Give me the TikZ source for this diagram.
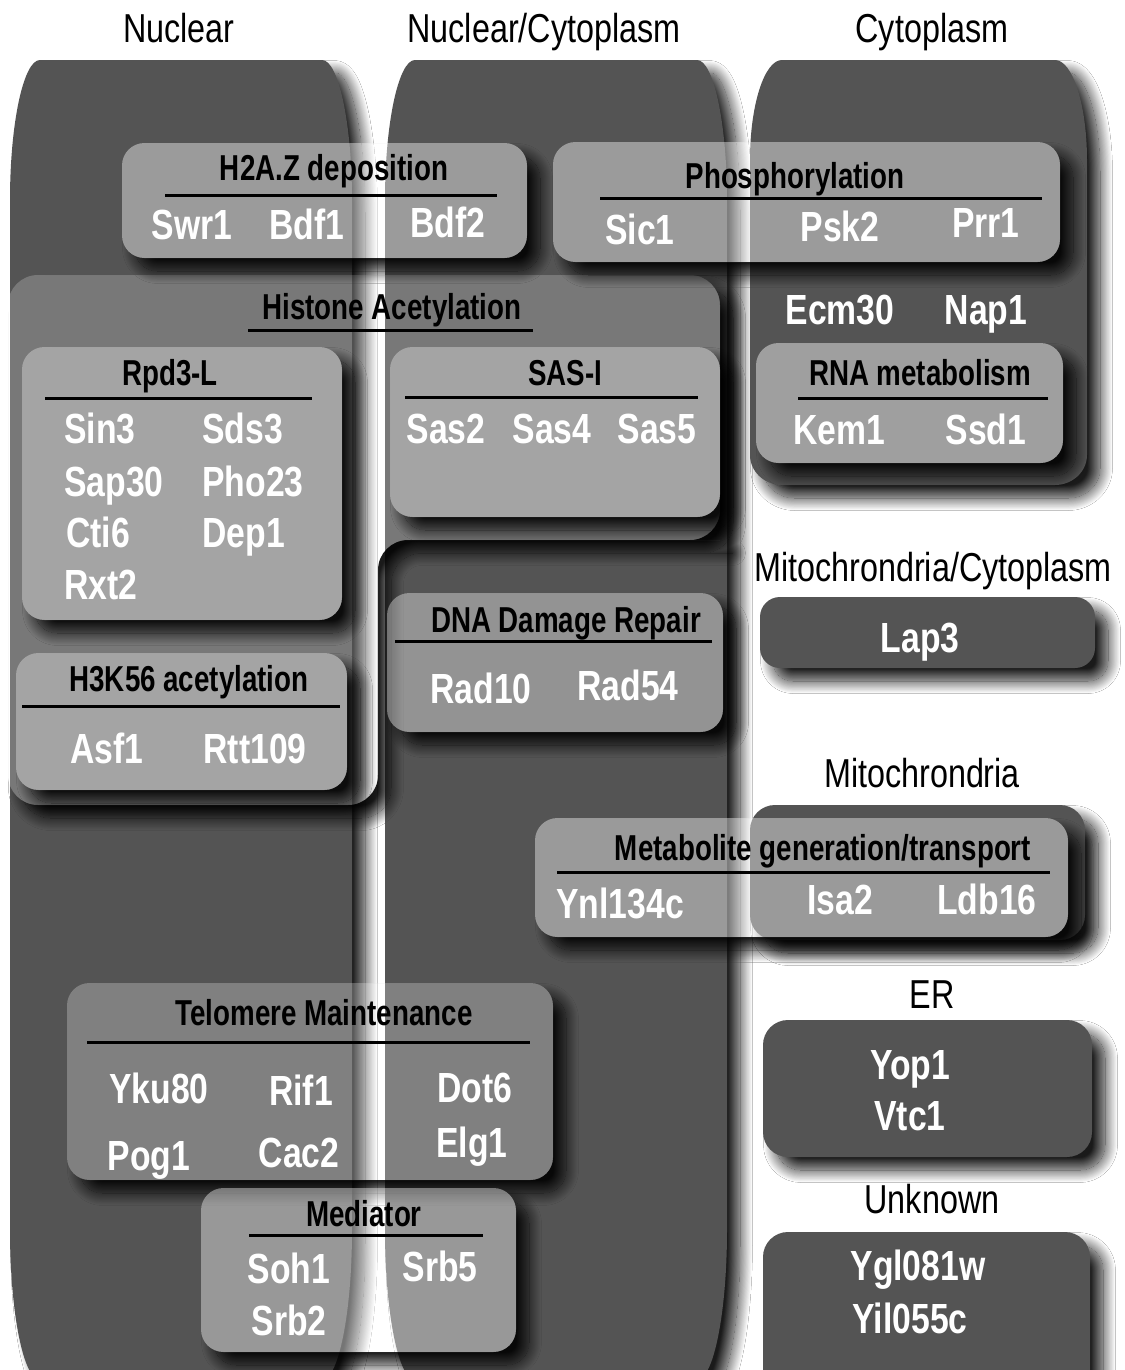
\documentclass[tikz,border=0pt]{standalone}
\usepackage{fontspec}
\setmainfont{Liberation Sans}
\newfontfamily\narrowfont[FakeStretch=0.8]{Liberation Sans}
\newfontfamily\titlefont[FakeStretch=0.77]{Liberation Sans}
\usetikzlibrary{shadows.blur}

\definecolor{cellgray}{HTML}{545454}

% rounded column: style, left, top, right, bottom, x radius, top y radius, bottom y radius
\newcommand{\capsule}[8]{%
  \path[#1] (#2,#3+#7) .. controls (#2,#3+0.45*#7) and (#2+0.45*#6,#3) .. (#2+#6,#3)
    -- (#4-#6,#3) .. controls (#4-0.45*#6,#3) and (#4,#3+0.45*#7) .. (#4,#3+#7)
    -- (#4,#5-#8) .. controls (#4,#5-0.45*#8) and (#4-0.45*#6,#5) .. (#4-#6,#5)
    -- (#2+#6,#5) .. controls (#2+0.45*#6,#5) and (#2,#5-0.45*#8) .. (#2,#5-#8) -- cycle;}

% see-through shape whose shadow stays outside it: style, corner radius, path
\newcommand{\glassshape}[3]{%
  \begin{scope}[rounded corners=#2]
    \clip (-60,-60) -- (1200,-60) -- (1200,1450) -- (-60,1450) -- cycle #3;
    \path[softshadow] #3;
  \end{scope}
  \path[#1, rounded corners=#2] #3;}
\newcommand{\glassbox}[5]{%
  \glassshape{#1}{4.5mm}{(#2,#3) -- (#2,#5) -- (#4,#5) -- (#4,#3) -- cycle}}

\begin{document}
\begin{tikzpicture}[x=0.02cm, y=-0.02cm,
    compartment/.style={fill=cellgray},
    glass/.style={fill=white, fill opacity=#1},
    softshadow/.style={blur shadow={shadow xshift=2.6mm, shadow yshift=-2.6mm, shadow blur radius=2.5mm, shadow blur steps=24, shadow opacity=90}},
    place/.style={anchor=base, inner sep=0pt, font=\narrowfont\fontsize{23}{27}\selectfont},
    group/.style={anchor=base, inner sep=0pt, font=\titlefont\bfseries\fontsize{20.5}{24}\selectfont},
    gene/.style={anchor=base, inner sep=0pt, text=white, font=\narrowfont\bfseries\fontsize{24}{28}\selectfont},
    rule/.style={line width=0.6mm}
]
\useasboundingbox (0,0) rectangle (1125,1370);
\clip (0,0) rectangle (1125,1370);
\fill[white] (0,0) rectangle (1125,1370);

% Compartments
\capsule{compartment, softshadow}{10}{60}{352}{1380}{30}{140}{150}
\capsule{compartment, softshadow}{385}{60}{727}{1380}{30}{140}{150}
\capsule{compartment, softshadow}{750}{60}{1087}{485}{32}{100}{30}
\path[compartment, softshadow, rounded corners=4mm] (760,597) rectangle (1095,668);
\path[compartment, softshadow, rounded corners=5mm] (750,805) rectangle (1085,940);
\path[compartment, softshadow, rounded corners=5mm] (763,1020) rectangle (1092,1157);
\path[compartment, softshadow, rounded corners=5mm] (763,1232) rectangle (1090,1395);

\node[place] (nuclear) at (179,42) {Nuclear};
\node[place] (nuccyto) at (544,42) {Nuclear/Cytoplasm};
\node[place] (cyto) at (932,42) {Cytoplasm};
\node[place] (mitocyto) at (933,581) {Mitochrondria/Cytoplasm};
\node[place] (mito) at (922,787) {Mitochrondria};
\node[place] (er) at (932,1008) {ER};
\node[place] (unknown) at (932,1213) {Unknown};

% Groups
\glassshape{glass=0.21}{6mm}{(8,275) -- (8,805) -- (378,805) .. controls (378,700) and (378,600) .. (378,540) -- (690,540) -- (720,540) -- (720,275) -- cycle}
\glassbox{glass=0.42}{122}{143}{527}{258}
\glassbox{glass=0.42}{553}{142}{1060}{262}
\glassbox{glass=0.44}{756}{343}{1063}{463}
\glassbox{glass=0.33}{22}{347}{342}{620}
\glassbox{glass=0.33}{16}{653}{347}{790}
\glassbox{glass=0.33}{390}{347}{720}{517}
\glassbox{glass=0.37}{387}{593}{723}{732}
\glassbox{glass=0.41}{535}{818}{1068}{937}
\glassbox{glass=0.26}{67}{983}{553}{1180}
\glassbox{glass=0.40}{201}{1188}{516}{1352}

% Group titles
\node[group] (h2az) at (334,180) {H2A.Z deposition};
\draw[rule] (165,195) -- (497,195);
\node[group] (phos) at (795,188) {Phosphorylation};
\draw[rule] (600,198) -- (1042,198);
\node[group] (rna) at (920,385) {RNA metabolism};
\draw[rule] (798,398) -- (1048,398);
\node[group] (histone) at (392,319) {Histone Acetylation};
\draw[rule] (248,330) -- (533,330);
\node[group] (rpd3l) at (170,385) {Rpd3-L};
\draw[rule] (45,398) -- (312,398);
\node[group] (h3k56) at (189,691) {H3K56 acetylation};
\draw[rule] (22,706) -- (340,706);
\node[group] (sasi) at (565,385) {SAS-I};
\draw[rule] (405,397) -- (698,397);
\node[group] (dnarep) at (566,632) {DNA Damage Repair};
\draw[rule] (395,641) -- (712,641);
\node[group] (metab) at (823,860) {Metabolite generation/transport};
\draw[rule] (557,872) -- (1050,872);
\node[group] (telomere) at (324,1025) {Telomere Maintenance};
\draw[rule] (87,1042) -- (530,1042);
\node[group] (mediator) at (364,1226) {Mediator};
\draw[rule] (249,1235) -- (483,1235);

% Proteins
\node[gene] (swr1) at (192,239) {Swr1};
\node[gene] (bdf1) at (307,239) {Bdf1};
\node[gene] (bdf2) at (448,237) {Bdf2};
\node[gene] (sic1) at (640,244) {Sic1};
\node[gene] (psk2) at (840,241) {Psk2};
\node[gene] (prr1) at (986,237) {Prr1};
\node[gene] (ecm30) at (840,324) {Ecm30};
\node[gene] (nap1) at (986,324) {Nap1};
\node[gene] (kem1) at (839,444) {Kem1};
\node[gene] (ssd1) at (986,444) {Ssd1};
\node[gene, anchor=base west] (sin3) at (64,443) {Sin3};
\node[gene, anchor=base west] (sds3) at (202,443) {Sds3};
\node[gene, anchor=base west] (sap30) at (64,496) {Sap30};
\node[gene, anchor=base west] (pho23) at (202,496) {Pho23};
\node[gene, anchor=base west] (cti6) at (66,547) {Cti6};
\node[gene, anchor=base west] (dep1) at (202,547) {Dep1};
\node[gene, anchor=base west] (rxt2) at (64,599) {Rxt2};
\node[gene] (asf1) at (107,763) {Asf1};
\node[gene] (rtt109) at (255,763) {Rtt109};
\node[gene] (sas2) at (446,443) {Sas2};
\node[gene] (sas4) at (552,443) {Sas4};
\node[gene] (sas5) at (657,443) {Sas5};
\node[gene] (rad10) at (481,703) {Rad10};
\node[gene] (rad54) at (628,700) {Rad54};
\node[gene] (lap3) at (920,652) {Lap3};
\node[gene] (ynl134c) at (620,918) {Ynl134c};
\node[gene] (isa2) at (840,914) {Isa2};
\node[gene] (ldb16) at (987,914) {Ldb16};
\node[gene] (yku80) at (159,1103) {Yku80};
\node[gene] (rif1) at (301,1105) {Rif1};
\node[gene] (dot6) at (475,1102) {Dot6};
\node[gene] (pog1) at (149,1170) {Pog1};
\node[gene] (cac2) at (299,1167) {Cac2};
\node[gene] (elg1) at (472,1157) {Elg1};
\node[gene] (soh1) at (289,1283) {Soh1};
\node[gene] (srb5) at (440,1281) {Srb5};
\node[gene] (srb2) at (289,1335) {Srb2};
\node[gene] (yop1) at (910,1079) {Yop1};
\node[gene] (vtc1) at (910,1130) {Vtc1};
\node[gene] (ygl081w) at (918,1280) {Ygl081w};
\node[gene] (yil055c) at (910,1333) {Yil055c};

\end{tikzpicture}
\end{document}
